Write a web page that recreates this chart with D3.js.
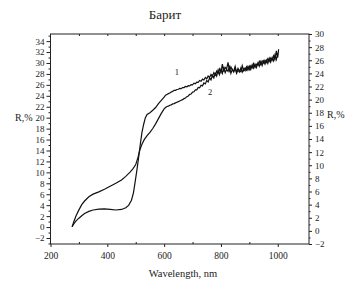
<!DOCTYPE html>
<html>
<head>
<meta charset="utf-8">
<script src="https://cdn.jsdelivr.net/npm/d3@7"></script>
<style>
body{margin:0;background:#fff;}
text{font-family:"Liberation Serif","Times New Roman",serif;fill:#222;}
</style>
</head>
<body>
<div id="chart"></div>
<script>
// sample 1 (left axis)
var wl1=[276,282,290,300,310,320,335,350,370,390,410,430,450,465,475,485,492,498,504,510,516,522,528,534,540,550,560,570,580,590,600,
  605,610,615,620,625,630,635,640,645,650,
  655,660,665,670,675,680,685,690,695,700,
  705,710,715,720,725,730,735,740,745,750,
  755,760,765,770,775,780,785,790,795,800,
  805,810,815,820,825,830,835,840,845,850,
  855,860,865,870,875,880,885,890,895,900,
  905,910,915,920,925,930,935,940,945,950,
  955,960,965,970,975,980,985,990,995,1000,1003];
var r1=[0.07,0.57,1.12,1.62,2.07,2.47,2.87,3.12,3.27,3.32,3.22,3.12,3.22,3.52,3.97,4.9,6.25,8.25,10.35,12.65,15.1,17.3,18.8,20.0,20.6,20.9,21.35,21.85,22.55,23.15,23.75,
  24.1,24.25,24.4,24.5,24.7,24.8,25.0,25.0,25.15,25.2,
  25.35,25.3,25.5,25.5,25.7,25.65,25.85,25.8,26.05,26.0,
  26.3,26.2,26.5,26.45,26.8,26.65,27.05,26.9,27.35,27.1,
  27.6,27.35,27.9,27.55,28.25,27.8,28.5,28.1,28.9,28.3,
  29.8,28.4,29.2,28.9,30.1,28.6,29.3,28.7,28.5,29.4,
  28.3,29.0,28.6,28.4,29.5,28.6,29.1,28.7,29.4,28.8,
  29.5,29.1,29.9,29.2,29.8,29.6,30.3,29.7,30.4,30.0,
  30.5,30.1,30.8,30.3,30.9,30.5,31.3,30.6,32.2,31.0,32.5];

// sample 2 (right axis)
var wl2=[276,282,290,300,310,320,335,350,370,390,410,430,450,465,480,490,500,508,515,522,530,540,550,560,570,580,590,600,
  605,610,615,620,625,630,635,640,645,650,
  655,660,665,670,675,680,685,690,695,700,
  705,710,715,720,725,730,735,740,745,750,
  755,760,765,770,775,780,785,790,795,800,
  805,810,815,820,825,830,835,840,845,850,
  855,860,865,870,875,880,885,890,895,900,
  905,910,915,920,925,930,935,940,945,950,
  955,960,965,970,975,980,985,990,995,1000];
var r2=[0.6,1.4,2.3,3.2,4.0,4.55,5.2,5.6,5.95,6.35,6.8,7.25,7.75,8.3,8.95,9.45,10.1,11.2,12.4,13.2,13.9,14.5,15.0,15.6,16.3,17.1,17.9,18.6,
  18.8,18.95,19.0,19.15,19.2,19.35,19.4,19.5,19.6,19.7,
  19.8,19.9,20.0,20.15,20.25,20.45,20.55,20.8,20.85,21.15,
  21.2,21.5,21.5,21.85,21.8,22.2,22.1,22.55,22.4,22.9,
  22.7,23.3,23.0,23.7,23.3,24.0,23.6,24.5,23.8,24.6,
  24.0,25.0,24.1,24.6,24.3,25.0,24.0,24.6,24.2,24.8,
  24.0,24.5,24.2,24.8,24.2,24.7,24.4,25.0,24.5,25.1,
  24.6,25.3,24.8,25.4,24.9,25.6,25.1,25.8,25.2,25.9,
  25.4,26.0,25.5,26.3,25.7,26.4,25.9,26.8,26.1,27.0];

var xTicks=[200,400,600,800,1000];
var xMinor=[300,500,700,900];
var leftTicks=d3.range(-2,35,2);
var leftMinor=d3.range(-3,36,2);
var rightTicks=d3.range(-2,31,2);
var rightMinor=d3.range(-1,30,2);

var w=346, h=282;
var pad={top:34, bottom:38, left:50.5, right:37};

var svg=d3.select("#chart").append("svg")
          .attr("width",w)
          .attr("height",h);

var xScale=d3.scaleLinear().domain([200,1110]).range([pad.left,w-pad.right]);
var yLeft=d3.scaleLinear().domain([-3.1,35.3]).range([h-pad.bottom,pad.top]);
var yRight=d3.scaleLinear().domain([-2,30]).range([h-pad.bottom,pad.top]);

//Frame
svg.append("rect")
   .attr("x",pad.left)
   .attr("y",pad.top)
   .attr("width",w-pad.right-pad.left)
   .attr("height",h-pad.bottom-pad.top)
   .style("fill","none")
   .style("stroke","#222")
   .style("stroke-width",1);

function styleAxis(g,size){
    g.select(".domain").remove();
    g.attr("font-family",null);
    g.selectAll("line").style("stroke","#222");
    g.selectAll("text").style("font-family","'Liberation Serif'").style("font-size",size+"px").style("fill","#222");
}

//x axis
var gx=svg.append("g").attr("transform","translate(0,"+(h-pad.bottom)+")")
   .call(d3.axisBottom(xScale).tickValues(xTicks).tickSize(3).tickPadding(5).tickFormat(d3.format("d")));
styleAxis(gx,9.5);
var gxm=svg.append("g").attr("transform","translate(0,"+(h-pad.bottom)+")")
   .call(d3.axisTop(xScale).tickValues(xMinor).tickSize(2).tickFormat(""));
styleAxis(gxm,9);
var gxt=svg.append("g").attr("transform","translate(0,"+pad.top+")")
   .call(d3.axisBottom(xScale).tickValues(xTicks.concat(xMinor).filter(function(d){return d>200;})).tickSize(2).tickFormat(""));
styleAxis(gxt,9);

//left axis
var gl=svg.append("g").attr("transform","translate("+pad.left+",0)")
   .call(d3.axisLeft(yLeft).tickValues(leftTicks).tickSize(4).tickPadding(2).tickFormat(d3.format("d")));
styleAxis(gl,9);
var glm=svg.append("g").attr("transform","translate("+pad.left+",0)")
   .call(d3.axisLeft(yLeft).tickValues(leftMinor).tickSize(2).tickFormat(""));
styleAxis(glm,9);

//right axis
var gr=svg.append("g").attr("transform","translate("+(w-pad.right)+",0)")
   .call(d3.axisRight(yRight).tickValues(rightTicks).tickSize(3).tickPadding(3).tickFormat(d3.format("d")));
styleAxis(gr,9);
var grm=svg.append("g").attr("transform","translate("+(w-pad.right)+",0)")
   .call(d3.axisRight(yRight).tickValues(rightMinor).tickSize(1.5).tickFormat(""));
styleAxis(grm,9);

//curves
var line1=d3.line()
            .x(function(d,i){return xScale(wl1[i]);})
            .y(function(d){return yLeft(d);});
var line2=d3.line()
            .x(function(d,i){return xScale(wl2[i]);})
            .y(function(d){return yRight(d);});
svg.append("path").datum(r1).attr("d",line1)
   .style("fill","none").style("stroke","#111").style("stroke-width",1.2);
svg.append("path").datum(r2).attr("d",line2)
   .style("fill","none").style("stroke","#111").style("stroke-width",1.2);

//curve labels
svg.append("text").attr("x",xScale(645)).attr("y",yLeft(27.8)).attr("text-anchor","middle")
   .style("font-size","8.5px").text("1");
svg.append("text").attr("x",xScale(762)).attr("y",yRight(20.7)).attr("text-anchor","middle")
   .style("font-size","8.5px").text("2");

//titles
svg.append("text").attr("x",165).attr("y",19).attr("text-anchor","middle")
   .style("font-size","13px").text("Барит");
svg.append("text").attr("x",183).attr("y",277).attr("text-anchor","middle")
   .style("font-size","10.5px").text("Wavelength, nm");
svg.append("text").attr("x",15).attr("y",yLeft(20)+3).attr("text-anchor","start")
   .style("font-size","10px").text("R,%");
svg.append("text").attr("x",327).attr("y",yRight(18)+5).attr("text-anchor","start")
   .style("font-size","10px").text("R,%");
</script>
</body>
</html>
